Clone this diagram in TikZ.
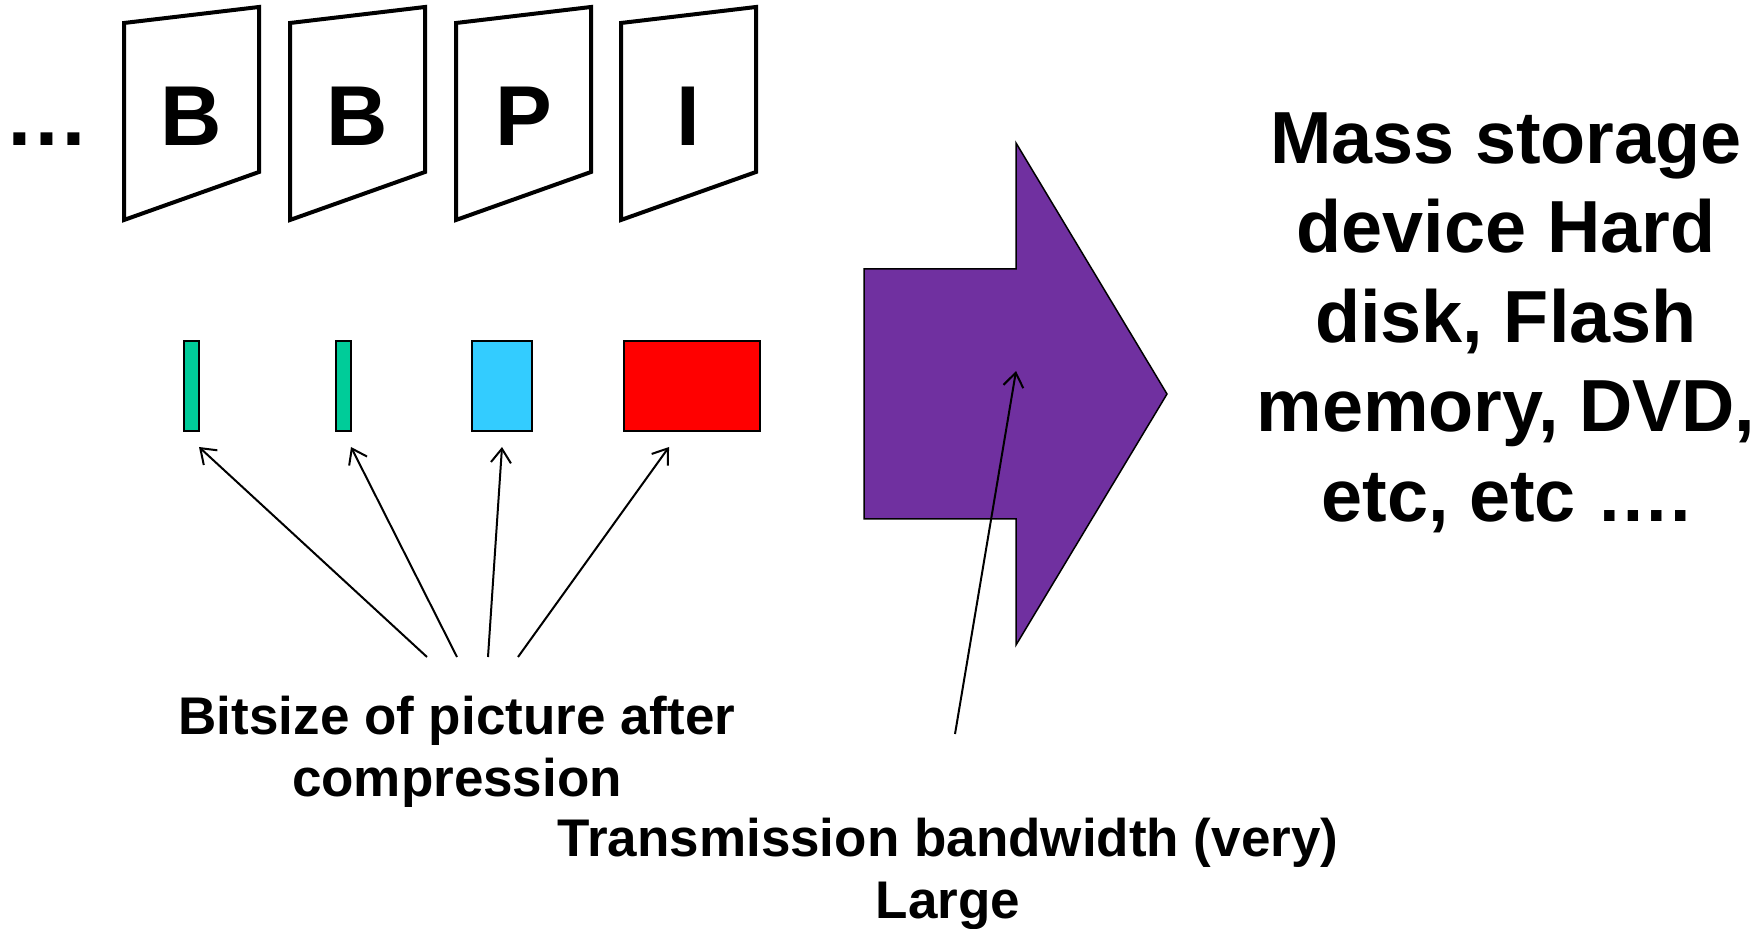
\documentclass[tikz,border=0pt]{standalone}
\usepackage{fontspec}
\setmainfont{Liberation Sans}
\usetikzlibrary{arrows.meta,calc}
\definecolor{barGreen}{HTML}{00CC99}
\definecolor{barBlue}{HTML}{33CCFF}
\definecolor{barRed}{HTML}{FF0000}
\definecolor{bigArrow}{HTML}{7030A0}

\begin{document}
\begin{tikzpicture}[x=0.5pt,y=-0.5pt,
  frame/.style={line width=2pt},
  frametag/.style={font=\fontsize{42.5}{50}\selectfont\bfseries, inner sep=0pt, outer sep=0pt},
  bar/.style={draw=black, line width=1pt, inner sep=0pt, outer sep=0pt, minimum height=45pt},
  pointer/.style={line width=1pt, -{Straight Barb[length=7pt,width=10pt]}},
  caption/.style={font=\fontsize{26.5}{31}\selectfont\bfseries, align=center, inner sep=0pt, anchor=north},
  storage/.style={font=\fontsize{36.9}{44.75}\selectfont\bfseries, align=center, inner sep=0pt, anchor=north}]

\useasboundingbox (0,0) rectangle (1764,929);
\fill[white] (0,0) rectangle (1764,929);

% sequence of coded pictures
\node[frametag, anchor=base] (dots) at (47,146) {…};
\foreach \L/\t/\n in {124/B/1, 290/B/2, 456/P/3, 621/I/4} {
  \draw[frame] (\L,23) -- (\L+135,7) -- (\L+135,172) -- (\L,220) -- cycle;
  \node[frametag] (pic\n) at (\L+67.5,116) {\t};
}

% bit sizes of the compressed pictures
\node[bar, fill=barGreen, minimum width=7.5pt] (size1) at (191.5,386) {};
\node[bar, fill=barGreen, minimum width=7.5pt] (size2) at (343.5,386) {};
\node[bar, fill=barBlue, minimum width=30pt] (size3) at (502,386) {};
\node[bar, fill=barRed, minimum width=68pt] (size4) at (692,386) {};

% captions
\node[caption] (bits) at (457,696) {Bitsize of picture after\\compression};
\node[caption] (band) at (948,818) {Transmission bandwidth (very)\\Large};
\node[storage] (store) at (1506,112) {Mass storage\\device Hard\\disk, Flash\\memory, DVD,\\etc, etc ….};

% broad transmission arrow
\draw[fill=bigArrow, line width=0.75pt]
  (864,269) -- (1016,269) -- (1016,143) -- (1167,394)
  -- (1016,645) -- (1016,519) -- (864,519) -- cycle;
\coordinate (pipe) at (1016,371);

% pointers from the captions
\coordinate (b1) at (427,657);
\coordinate (b2) at (457,657);
\coordinate (b3) at (488,657);
\coordinate (b4) at (518,657);
\coordinate (t1) at (199,447);
\coordinate (t2) at (351,447);
\coordinate (t3) at (502,447);
\coordinate (t4) at (669,447);
\foreach \i in {1,...,4} { \draw[pointer] (b\i) -- (t\i); }
\coordinate (bw) at (955,734);
\draw[pointer] (bw) -- (pipe);
\end{tikzpicture}
\end{document}
